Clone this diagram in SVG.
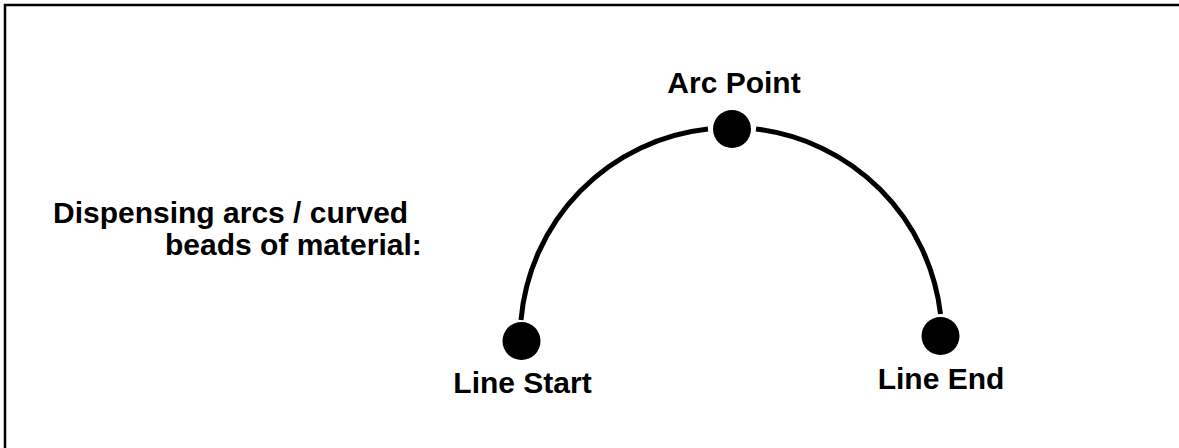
<svg xmlns="http://www.w3.org/2000/svg" width="1179" height="448" viewBox="0 0 1179 448">
<style>
.lbl{font-family:"Liberation Sans",Arial,sans-serif;font-weight:bold;font-size:30px;fill:#000}
.dot{fill:#000}
.arc{fill:none;stroke:#000;stroke-width:5}
</style>
<rect x="0" y="0" width="1179" height="448" fill="#fff"/>
<g id="frame">
<path d="M5 448 V5 H1179" fill="none" stroke="#000" stroke-width="2.5"/>
</g>
<g id="connectors">
<path class="arc" d="M521 320 A210.5 210.5 0 0 1 708 129"/>
<path class="arc" d="M756 129 A211 211 0 0 1 940.5 314"/>
</g>
<g id="arc-point">
<circle class="dot" cx="732" cy="129" r="19"/>
<text class="lbl" x="734" y="93" text-anchor="middle">Arc Point</text>
</g>
<g id="line-start">
<circle class="dot" cx="521.5" cy="341" r="19"/>
<text class="lbl" x="522.5" y="393" text-anchor="middle">Line Start</text>
</g>
<g id="line-end">
<circle class="dot" cx="940.5" cy="336" r="19"/>
<text class="lbl" x="941" y="389" text-anchor="middle">Line End</text>
</g>
<g id="caption">
<text class="lbl" x="53" y="223">Dispensing arcs / curved</text>
<text class="lbl" x="165" y="255">beads of material:</text>
</g>
</svg>
